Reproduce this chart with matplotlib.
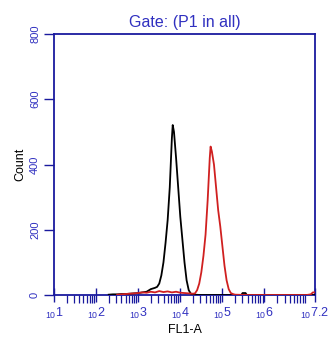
import numpy as np
import matplotlib
matplotlib.use("Agg")
import matplotlib.pyplot as plt
from matplotlib.ticker import FixedLocator, NullFormatter

# ---- data (log10 of FL1-A, counts) ----
black_log = [2.30, 2.40, 2.50, 2.60, 2.70, 2.80, 2.90, 3.00, 3.10, 3.20, 3.25, 3.30, 3.35, 3.40,
             3.45, 3.50, 3.55, 3.60, 3.65, 3.70, 3.75, 3.80, 3.82, 3.85, 3.90, 3.95, 4.00,
             4.05, 4.10, 4.15, 4.20, 4.25, 4.30, 4.50, 5.00, 5.45, 5.48, 5.55, 5.58, 6.00,
             6.50, 7.00, 7.20]
black_cnt = [1, 2, 2, 3, 3, 4, 5, 6, 8, 10, 14, 18, 20, 22,
             25, 35, 60, 100, 160, 230, 330, 480, 521, 500, 420, 330, 240,
             170, 100, 45, 15, 4, 1, 0, 0, 0, 6, 6, 0, 0,
             0, 0, 0]

red_log = [2.50, 2.70, 2.90, 3.00, 3.10, 3.20, 3.30, 3.40, 3.50, 3.60, 3.70, 3.80, 3.90, 4.00,
           4.10, 4.20, 4.30, 4.35, 4.40, 4.45, 4.50, 4.55, 4.60, 4.65, 4.70, 4.72, 4.75,
           4.80, 4.85, 4.90, 4.95, 5.00, 5.05, 5.10, 5.15, 5.20, 5.25, 5.30, 5.60,
           6.00, 6.50, 7.00, 7.10, 7.15, 7.20]
red_cnt = [1, 3, 5, 6, 8, 7, 10, 8, 12, 9, 11, 8, 10, 7,
           6, 5, 4, 5, 15, 35, 70, 120, 185, 290, 420, 455, 440,
           400, 330, 260, 210, 150, 90, 45, 18, 6, 3, 1, 0,
           0, 0, 0, 2, 8, 8]

y_ticks = [0, 200, 400, 600, 800]
x_tick_exps = [1, 2, 3, 4, 5, 6, 7.2]
x_tick_labels = ['1', '2', '3', '4', '5', '6', '7.2']

NAVY = '#1a1a9e'
BLUE = '#3030c0'

plt.rcParams['font.family'] = ['Liberation Sans', 'DejaVu Sans']
fig = plt.figure(figsize=(3.31, 3.38), dpi=100)
ax = fig.add_axes([54/331, 1 - 295/338, (315-54)/331, (295-34)/338])

ax.plot(10**np.array(black_log), black_cnt, color='black', lw=1.3, zorder=3)
ax.plot(10**np.array(red_log), red_cnt, color='#d02020', lw=1.3, zorder=3)

ax.set_xscale('log')
ax.set_xlim(10**1, 10**7.2)
ax.set_ylim(0, 800)

for s in ax.spines.values():
    s.set_color(NAVY)
    s.set_linewidth(1.3)

ax.set_yticks(y_ticks)
ax.set_yticklabels([str(v) for v in y_ticks], rotation=90, va='center',
                   color=BLUE, fontsize=8)
ax.tick_params(axis='y', direction='out', length=7, width=1.0, color=NAVY, pad=3)

ax.xaxis.set_major_locator(FixedLocator([10**e for e in x_tick_exps]))
ax.set_xticklabels([r'$\mathregular{_{10}%s}$' % t for t in x_tick_labels],
                   color=BLUE, fontsize=9)
minors = []
for d in range(1, 8):
    for m in range(2, 10):
        v = m * 10**d
        if v < 10**7.2:
            minors.append(v)
ax.xaxis.set_minor_locator(FixedLocator(minors))
ax.xaxis.set_minor_formatter(NullFormatter())
ax.tick_params(axis='x', which='major', direction='inout', length=10, width=1.0,
               color=NAVY, pad=3)
ax.tick_params(axis='x', which='minor', direction='out', length=6, width=0.9,
               color=NAVY)

ax.set_title('Gate: (P1 in all)', color=BLUE, fontsize=11.5, pad=5)
ax.set_ylabel('Count', fontsize=9, labelpad=3)
ax.set_xlabel('FL1-A', fontsize=9, labelpad=2)

fig.savefig('out.png', dpi=100)
